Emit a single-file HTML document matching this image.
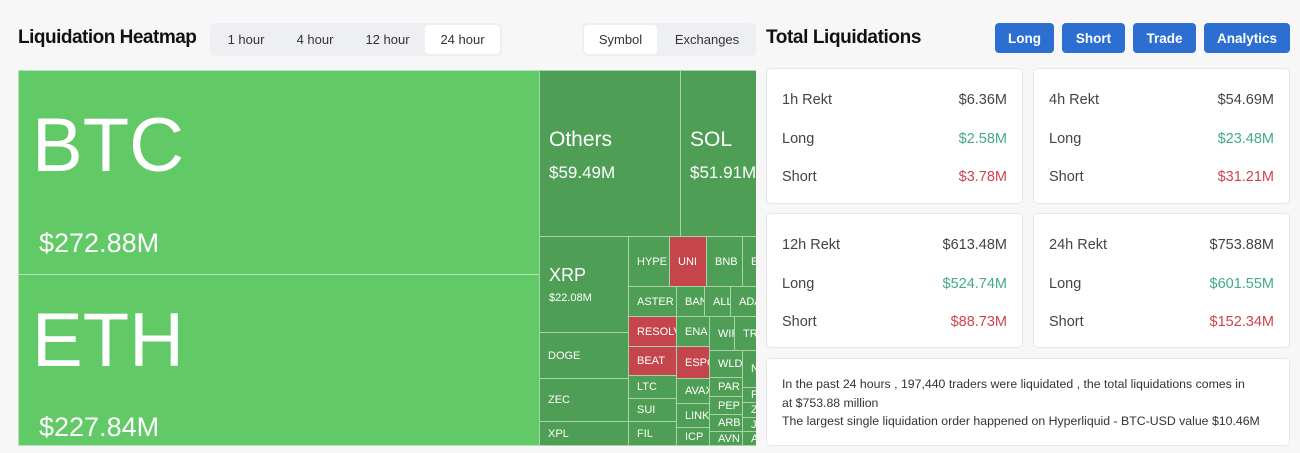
<!DOCTYPE html>
<html><head><meta charset="utf-8"><style>
*{box-sizing:border-box;margin:0;padding:0}
body{width:1300px;height:453px;background:#f7f7f8;font-family:"Liberation Sans",sans-serif;position:relative;overflow:hidden;color:#222}
.a{position:absolute}
.t{position:absolute;background:#4f9e55;border:1px solid #a9d3aa;color:#fff;overflow:hidden;white-space:nowrap;font-size:11px;display:flex;align-items:center;padding-left:8px}
.r{background:#c4464c}
.L{background:#62c967;border-color:#b5e3b7}
.card{position:absolute;background:#fff;border:1px solid #e6e6ea;border-radius:5px}
.row{position:absolute;left:15px;right:15px;display:flex;justify-content:space-between;font-size:14.5px;color:#444}
.g{color:#46a98a}.rd{color:#d0434e}
.btn{position:absolute;top:23px;height:30px;background:#2c6fd1;color:#fff;font-weight:bold;font-size:13.5px;border-radius:4px;display:flex;align-items:center;justify-content:center}
.tab{position:absolute;top:25px;height:28px;font-size:13px;color:#333;display:flex;align-items:center;justify-content:center}
</style></head><body>
<div class="a" style="left:18px;top:27px;font-size:19px;font-weight:bold;letter-spacing:-0.5px;color:#111">Liquidation Heatmap</div>
<div class="a" style="left:210px;top:23px;width:292px;height:33px;background:#eeeff2;border-radius:5px"></div>
<div class="a" style="left:425px;top:25px;width:75px;height:29px;background:#fff;border-radius:4px"></div>
<div class="tab" style="left:215px;width:62px">1 hour</div>
<div class="tab" style="left:284px;width:62px">4 hour</div>
<div class="tab" style="left:355px;width:65px">12 hour</div>
<div class="tab" style="left:425px;width:75px">24 hour</div>
<div class="a" style="left:582px;top:23px;width:174px;height:33px;background:#eeeff2;border-radius:5px"></div>
<div class="a" style="left:584px;top:25px;width:73px;height:29px;background:#fff;border-radius:4px"></div>
<div class="tab" style="left:584px;width:73px">Symbol</div>
<div class="tab" style="left:660px;width:94px">Exchanges</div>

<div class="t L" style="left:18px;top:70px;width:522px;height:205px;display:block;padding:0">
<div class="a" style="left:13px;top:37px;font-size:76px;line-height:1">BTC</div>
<div class="a" style="left:20px;top:157px;font-size:27px">$272.88M</div></div>
<div class="t L" style="left:18px;top:274px;width:522px;height:172px;display:block;padding:0">
<div class="a" style="left:13px;top:28px;font-size:76px;line-height:1">ETH</div>
<div class="a" style="left:20px;top:137px;font-size:27px">$227.84M</div></div>
<div class="t" style="left:539px;top:70px;width:142px;height:167px;display:block;padding:0">
<div class="a" style="left:9px;top:57px;font-size:21px">Others</div>
<div class="a" style="left:9px;top:92px;font-size:17px">$59.49M</div></div>
<div class="t" style="left:680px;top:70px;width:78px;height:167px;display:block;padding:0">
<div class="a" style="left:9px;top:57px;font-size:21px">SOL</div>
<div class="a" style="left:9px;top:92px;font-size:17px">$51.91M</div></div>
<div class="t" style="left:539px;top:236px;width:90px;height:97px;display:block;padding:0">
<div class="a" style="left:9px;top:28px;font-size:18px">XRP</div>
<div class="a" style="left:9px;top:55px;font-size:11px">$22.08M</div></div>
<div class="t" style="left:539px;top:332px;width:90px;height:47px">DOGE</div>
<div class="t" style="left:539px;top:378px;width:90px;height:44px">ZEC</div>
<div class="t" style="left:539px;top:421px;width:90px;height:25px">XPL</div>
<div class="t" style="left:628px;top:236px;width:42px;height:51px">HYPE</div>
<div class="t r" style="left:669px;top:236px;width:38px;height:51px">UNI</div>
<div class="t" style="left:706px;top:236px;width:37px;height:51px">BNB</div>
<div class="t" style="left:742px;top:236px;width:16px;height:51px">E</div>
<div class="t" style="left:628px;top:286px;width:49px;height:31px">ASTER</div>
<div class="t" style="left:676px;top:286px;width:29px;height:31px">BAN</div>
<div class="t" style="left:704px;top:286px;width:27px;height:31px">ALL</div>
<div class="t" style="left:730px;top:286px;width:28px;height:31px">ADA</div>
<div class="t r" style="left:628px;top:316px;width:49px;height:31px">RESOLV</div>
<div class="t r" style="left:628px;top:346px;width:49px;height:30px">BEAT</div>
<div class="t" style="left:628px;top:375px;width:49px;height:24px">LTC</div>
<div class="t" style="left:628px;top:398px;width:49px;height:24px">SUI</div>
<div class="t" style="left:628px;top:421px;width:49px;height:25px">FIL</div>
<div class="t" style="left:676px;top:316px;width:34px;height:31px">ENA</div>
<div class="t" style="left:709px;top:316px;width:26px;height:35px">WIF</div>
<div class="t" style="left:734px;top:316px;width:24px;height:35px">TRX</div>
<div class="t r" style="left:676px;top:346px;width:34px;height:33px">ESPO</div>
<div class="t" style="left:676px;top:378px;width:34px;height:26px">AVAX</div>
<div class="t" style="left:676px;top:403px;width:34px;height:25px">LINK</div>
<div class="t" style="left:676px;top:427px;width:34px;height:19px">ICP</div>
<div class="t" style="left:709px;top:350px;width:34px;height:28px">WLD</div>
<div class="t" style="left:709px;top:377px;width:34px;height:20px">PAR</div>
<div class="t" style="left:709px;top:396px;width:34px;height:19px">PEP</div>
<div class="t" style="left:709px;top:414px;width:34px;height:18px">ARB</div>
<div class="t" style="left:709px;top:431px;width:34px;height:15px">AVN</div>
<div class="t" style="left:742px;top:350px;width:16px;height:38px">N</div>
<div class="t" style="left:742px;top:387px;width:16px;height:16px">F</div>
<div class="t" style="left:742px;top:402px;width:16px;height:16px">Z</div>
<div class="t" style="left:742px;top:417px;width:16px;height:15px">J</div>
<div class="t" style="left:742px;top:431px;width:16px;height:15px">A</div>
<div class="a" style="left:756px;top:60px;width:10px;height:393px;background:#f7f7f8"></div>

<div class="a" style="left:766px;top:27px;font-size:19px;font-weight:bold;letter-spacing:-0.4px;color:#111">Total Liquidations</div>
<div class="btn" style="left:995px;width:59px">Long</div>
<div class="btn" style="left:1062px;width:63px">Short</div>
<div class="btn" style="left:1133px;width:63px">Trade</div>
<div class="btn" style="left:1204px;width:86px">Analytics</div>

<div class="card" style="left:766px;top:68px;width:257px;height:136px">
<div class="row" style="top:23px"><span>1h Rekt</span><span>$6.36M</span></div>
<div class="row" style="top:62px"><span>Long</span><span class="g">$2.58M</span></div>
<div class="row" style="top:100px"><span>Short</span><span class="rd">$3.78M</span></div></div>
<div class="card" style="left:1033px;top:68px;width:257px;height:136px">
<div class="row" style="top:23px"><span>4h Rekt</span><span>$54.69M</span></div>
<div class="row" style="top:62px"><span>Long</span><span class="g">$23.48M</span></div>
<div class="row" style="top:100px"><span>Short</span><span class="rd">$31.21M</span></div></div>
<div class="card" style="left:766px;top:213px;width:257px;height:135px">
<div class="row" style="top:23px"><span>12h Rekt</span><span>$613.48M</span></div>
<div class="row" style="top:62px"><span>Long</span><span class="g">$524.74M</span></div>
<div class="row" style="top:100px"><span>Short</span><span class="rd">$88.73M</span></div></div>
<div class="card" style="left:1033px;top:213px;width:257px;height:135px">
<div class="row" style="top:23px"><span>24h Rekt</span><span>$753.88M</span></div>
<div class="row" style="top:62px"><span>Long</span><span class="g">$601.55M</span></div>
<div class="row" style="top:100px"><span>Short</span><span class="rd">$152.34M</span></div></div>
<div class="card" style="left:766px;top:358px;width:524px;height:88px">
<div class="a" style="left:15px;top:16px;font-size:12.3px;white-space:nowrap;line-height:18.5px;color:#333">In the past 24 hours , 197,440 traders were liquidated , the total liquidations comes in<br>at $753.88 million<br>The largest single liquidation order happened on Hyperliquid - BTC-USD value $10.46M</div></div>
</body></html>
